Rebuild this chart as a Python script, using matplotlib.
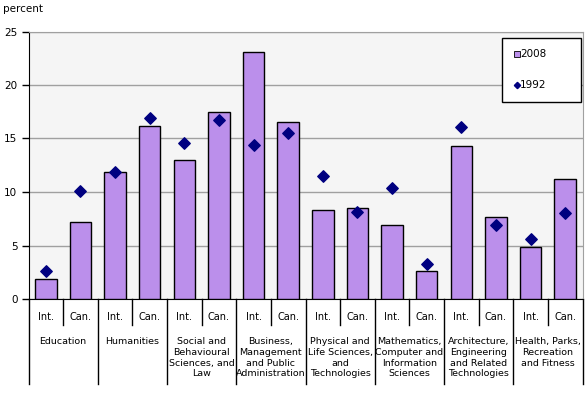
import matplotlib
matplotlib.use("Agg")
import matplotlib.pyplot as plt
from matplotlib.lines import Line2D
from matplotlib.patches import Rectangle
import matplotlib.transforms as mtransforms

groups = ["Education", "Humanities", "Social and\nBehavioural\nSciences, and\nLaw",
          "Business,\nManagement\nand Public\nAdministration",
          "Physical and\nLife Sciences,\nand\nTechnologies",
          "Mathematics,\nComputer and\nInformation\nSciences",
          "Architecture,\nEngineering\nand Related\nTechnologies",
          "Health, Parks,\nRecreation\nand Fitness"]
subcats = ["Int.", "Can."]
vals_2008 = [1.9, 7.2, 11.9, 16.2, 13.0, 17.5, 23.1, 16.5, 8.3, 8.5, 6.9, 2.6, 14.3, 7.7, 4.9, 11.2]
vals_1992 = [2.6, 10.1, 11.9, 16.9, 14.6, 16.7, 14.4, 15.5, 11.5, 8.1, 10.4, 3.3, 16.1, 6.9, 5.6, 8.0]
series_names = ["2008", "1992"]
yticks = [0, 5, 10, 15, 20, 25]

BAR_COLOR = "#bb8feb"
DOT_COLOR = "#000080"

W, H = 586, 394
fig = plt.figure(figsize=(W/100, H/100), dpi=100)
L, R, T, B = 28.5, 582.5, 31.5, 299
ax = fig.add_axes([L/W, (H-B)/H, (R-L)/W, (B-T)/H])
ax.set_facecolor("#f5f5f5")

n = len(vals_2008)
x = list(range(n))
ax.bar(x, vals_2008, width=0.62, color=BAR_COLOR, edgecolor="black", linewidth=1.0, zorder=3)
ax.scatter(x, vals_1992, marker="D", s=34, color=DOT_COLOR, zorder=4)

ax.set_xlim(-0.5, n-0.5)
ax.set_ylim(0, 25)
ax.set_yticks(yticks)
ax.set_yticklabels([str(t) for t in yticks], fontsize=7.5)
ax.yaxis.grid(True, color="#a0a0a0", linewidth=1.0, zorder=0)
ax.set_xticks([])
ax.tick_params(axis="y", length=5, width=1, pad=3, color="black")
for s in ["top", "right"]:
    ax.spines[s].set_color("#a0a0a0")
ax.spines["left"].set_color("black")
ax.spines["bottom"].set_color("black")

def fy(py):
    return (H - py) / H
def fx(px):
    return px / W

# category labels
trans = mtransforms.blended_transform_factory(ax.transData, fig.transFigure)
for i in range(n):
    ax.text(i, fy(316.5), subcats[i % 2], transform=trans, ha="center", va="center", fontsize=7)
for i in range(n + 1):
    xb = i - 0.5
    y_end = 384 if i % 2 == 0 else 325
    ax.add_line(Line2D([xb, xb], [fy(B), fy(y_end)], transform=trans, color="black", linewidth=1.0, clip_on=False))
for g, name in enumerate(groups):
    ax.text(2*g + 0.5, fy(337), name, transform=trans, ha="center", va="top", fontsize=6.8, linespacing=1.26)

fig.text(fx(3), fy(9), "percent", ha="left", va="center", fontsize=7.5)

# legend (drawn as a box with sample markers)
lx0, lx1, ly0, ly1 = 501.5, 580.5, 38, 101.5
fig.patches.append(Rectangle((fx(lx0), fy(ly1)), fx(lx1) - fx(lx0), fy(ly0) - fy(ly1),
                             transform=fig.transFigure, facecolor="white", edgecolor="black",
                             linewidth=1.0, zorder=5))
fig.lines.append(Line2D([fx(516.5)], [fy(54)], transform=fig.transFigure, marker="s", markersize=4.5,
                        markerfacecolor=BAR_COLOR, markeredgecolor="black", markeredgewidth=0.6,
                        linestyle="none", zorder=6))
fig.lines.append(Line2D([fx(516.5)], [fy(85)], transform=fig.transFigure, marker="D", markersize=3.2,
                        color=DOT_COLOR, linestyle="none", zorder=6))
fig.text(fx(520), fy(54), series_names[0], ha="left", va="center", fontsize=7.5, zorder=7)
fig.text(fx(520), fy(85), series_names[1], ha="left", va="center", fontsize=7.5, zorder=7)

fig.savefig("out.png", dpi=100)
